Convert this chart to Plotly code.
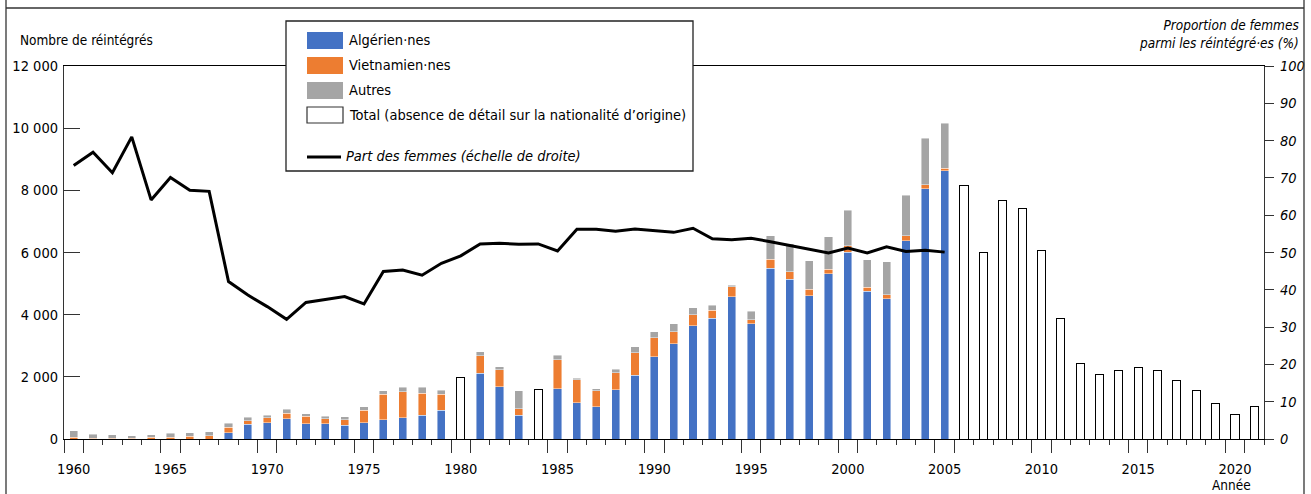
import plotly.graph_objects as go

# ---------------- data ----------------
detail_years = list(range(1960, 1980)) + [1981, 1982, 1983] + list(range(1985, 2006))
algeriens = [0, 0, 0, 0, 0, 0, 0, 0,
             200, 470, 525, 655, 495, 495, 440, 525, 620, 685, 770, 925,
             2110, 1685, 770,
             1620, 1170, 1040, 1590, 2050, 2650, 3065, 3645, 3885, 4580, 3700,
             5490, 5140, 4610, 5320, 6015, 4760, 4515, 6380, 8050, 8635]
vietnamiens = [60, 20, 30, 20, 60, 60, 90, 110,
               175, 120, 165, 170, 245, 150, 180, 400, 820, 835, 700, 515,
               570, 545, 205,
               930, 730, 515, 545, 730, 610, 385, 345, 265, 320, 130,
               300, 235, 205, 140, 195, 130, 120, 165, 130, 75]
autres = [200, 140, 100, 80, 70, 130, 110, 120,
          125, 110, 80, 140, 65, 95, 100, 105, 105, 140, 190, 135,
          130, 100, 570,
          150, 50, 65, 110, 190, 190, 250, 225, 160, 45, 280,
          745, 910, 920, 1040, 1145, 880, 1070, 1305, 1490, 1445]

total_years = [1980, 1984] + list(range(2006, 2022))
total_vals = [1970, 1600, 8150, 5985, 7665, 7410, 6080, 3880, 2435, 2090,
              2190, 2305, 2210, 1890, 1545, 1150, 785, 1050]

share_years = list(range(1960, 2006))
share_women = [73.3, 76.9, 71.4, 81.0, 64.1, 70.1, 66.7, 66.4, 42.2, 38.6,
               35.5, 32.1, 36.6, 37.5, 38.2, 36.2, 44.9, 45.3, 43.9, 47.1,
               49.1, 52.3, 52.5, 52.2, 52.3, 50.4, 56.2, 56.2, 55.7, 56.3,
               55.8, 55.4, 56.5, 53.7, 53.4, 53.8, 52.9, 51.9, 51.1, 49.9,
               51.2, 49.9, 51.5, 50.3, 50.6, 50.1]

left_ticks = [0, 2000, 4000, 6000, 8000, 10000, 12000]
left_labels = ["0", "2 000", "4 000", "6 000", "8 000", "10 000", "12 000"]
right_ticks = list(range(0, 101, 10))
year_labels = [1960, 1965, 1970, 1975, 1980, 1985, 1990, 1995, 2000, 2005, 2010, 2015, 2020]

# ---------------- style ----------------
FONT = "DejaVu Sans Condensed, Liberation Sans Narrow, Roboto, sans-serif"
BLUE, ORANGE, GREY = "#4472C4", "#ED7D31", "#A5A5A5"
W, H = 1311, 494
L, R, T, B = 64, 1264, 66, 439  # plot area in pixels
BW = 0.42

def px(x):
    return (x - L) / (R - L)

def py(y):
    return (B - y) / (B - T)

fig = go.Figure()
edge = dict(color="rgba(255,255,255,0.55)", width=0.8)
fig.add_trace(go.Bar(x=detail_years, y=algeriens, name="Algérien·nes", width=BW,
                     marker=dict(color=BLUE, line=edge)))
fig.add_trace(go.Bar(x=detail_years, y=vietnamiens, name="Vietnamien·nes", width=BW,
                     marker=dict(color=ORANGE, line=edge)))
fig.add_trace(go.Bar(x=detail_years, y=autres, name="Autres", width=BW,
                     marker=dict(color=GREY, line=edge)))
fig.add_trace(go.Bar(x=total_years, y=total_vals, name="Total", width=BW,
                     marker=dict(color="white", line=dict(color="black", width=1.0))))
fig.add_trace(go.Scatter(x=share_years, y=share_women, mode="lines", name="Part des femmes",
                         line=dict(color="black", width=3), xaxis="x2", yaxis="y2"))

long_ticks = [1959.5, 1960.5]
for yv in year_labels[1:]:
    long_ticks += [yv - 0.5, yv + 0.5]

TICKC = "#333"
fig.update_layout(
    width=W, height=H,
    margin=dict(l=L, r=W - R, t=T, b=H - B, autoexpand=False),
    paper_bgcolor="white", plot_bgcolor="white",
    barmode="stack", showlegend=False,
    font=dict(family=FONT, size=14, color="black"),
    xaxis=dict(range=[1959.5, 2021.5], showgrid=False, zeroline=False, automargin=False,
               showline=True, linecolor="black", linewidth=1.3, mirror=True,
               tickmode="array", tickvals=long_ticks, ticks="outside", ticklen=13,
               tickcolor=TICKC, tickwidth=1.2, showticklabels=False,
               minor=dict(tickmode="linear", tick0=0.5, dtick=1, ticks="outside",
                          ticklen=5, tickcolor=TICKC, tickwidth=1.2)),
    xaxis2=dict(range=[1959.5, 2021.5], overlaying="x", anchor="y2", side="bottom",
                showgrid=False, zeroline=False, showline=False, automargin=False,
                tickmode="array", tickvals=year_labels, ticks="", ticklen=0,
                ticklabelstandoff=19,
                tickfont=dict(family=FONT, size=14.5, color="black")),
    yaxis=dict(range=[0, 12000], showgrid=False, zeroline=False, automargin=False,
               showline=True, linecolor=TICKC, linewidth=1.2,
               tickmode="array", tickvals=left_ticks, ticktext=left_labels,
               ticks="inside", ticklen=16, tickcolor=TICKC, tickwidth=1.2,
               ticklabelstandoff=2,
               tickfont=dict(family=FONT, size=14.5, color="black")),
    yaxis2=dict(range=[0, 100], overlaying="y", anchor="x2", side="right",
                showgrid=False, zeroline=False, automargin=False,
                showline=True, linecolor=TICKC, linewidth=1.2,
                tickmode="array", tickvals=right_ticks,
                ticks="outside", ticklen=9, tickcolor=TICKC, tickwidth=1.2,
                ticklabelstandoff=3,
                tickfont=dict(family=FONT, size=14.5, color="black", style="italic")),
)

shapes = []
# outer frame
frame = dict(color="#333", width=1.3)
shapes.append(dict(type="line", xref="paper", yref="paper", x0=px(6), x1=px(6), y0=py(0), y1=py(494), line=frame))
shapes.append(dict(type="line", xref="paper", yref="paper", x0=px(1304), x1=px(1304), y0=py(0), y1=py(494), line=frame))
shapes.append(dict(type="line", xref="paper", yref="paper", x0=px(6), x1=px(1304), y0=py(8), y1=py(8), line=frame))
# legend box
shapes.append(dict(type="rect", xref="paper", yref="paper", layer="above",
                   x0=px(286), x1=px(693), y0=py(171), y1=py(21),
                   fillcolor="white", line=dict(color="#222", width=1.3)))
sw = [(BLUE, 32, 49, None), (ORANGE, 57, 74, None), (GREY, 82, 99, None), ("white", 107, 123, "#333")]
for col, y0, y1, lc in sw:
    shapes.append(dict(type="rect", xref="paper", yref="paper", layer="above",
                       x0=px(307), x1=px(343), y0=py(y1), y1=py(y0), fillcolor=col,
                       line=dict(color=lc if lc else col, width=1.2 if lc else 0)))
shapes.append(dict(type="line", xref="paper", yref="paper", layer="above",
                   x0=px(307), x1=px(341), y0=py(157), y1=py(157),
                   line=dict(color="black", width=3)))
fig.update_layout(shapes=shapes)

ann = []
legend_texts = [("Algérien·nes", 40, False), ("Vietnamien·nes", 65, False), ("Autres", 90, False),
                ("Total (absence de détail sur la nationalité d’origine)", 115, False),
                ("Part des femmes (échelle de droite)", 156, True)]
for txt, yy, it in legend_texts:
    ann.append(dict(text=txt, xref="paper", yref="paper", x=px(347 if not it else 344), y=py(yy),
                    xanchor="left", yanchor="middle", showarrow=False,
                    font=dict(family=FONT, size=14.5, color="black", style="italic" if it else "normal")))
ann.append(dict(text="Nombre de réintégrés", xref="paper", yref="paper", x=px(18), y=py(40),
                xanchor="left", yanchor="middle", showarrow=False,
                font=dict(family=FONT, size=13.5, color="black")))
ann.append(dict(text="Proportion de femmes<br>parmi les réintégré·es (%)", xref="paper", yref="paper",
                x=px(1301), y=py(15), xanchor="right", yanchor="top", align="right", showarrow=False,
                font=dict(family=FONT, size=13.5, color="black", style="italic")))
ann.append(dict(text="Année", xref="paper", yref="paper", x=px(1231), y=py(485),
                xanchor="center", yanchor="middle", showarrow=False,
                font=dict(family=FONT, size=13.5, color="black")))
fig.update_layout(annotations=ann)

fig.write_html("out.html", config={"displayModeBar": False},
               post_script="document.body.style.margin='0';document.body.style.overflow='hidden';")
